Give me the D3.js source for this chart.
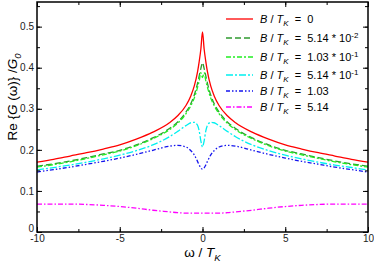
<!DOCTYPE html>
<html>
<head>
<meta charset="utf-8">
<script src="https://cdn.jsdelivr.net/npm/d3@7"></script>
<style>
  body { margin: 0; background: #fff; }
  text { font-family: "Liberation Sans", Arial, sans-serif; }
</style>
</head>
<body>
<div id="chart"></div>
<script>
var omega = [-10, -9, -8, -7, -6, -5, -4, -3, -2, -1.5, -1, -0.7, -0.5, -0.3, -0.2, -0.1, 0,
             0.1, 0.2, 0.3, 0.5, 0.7, 1, 1.5, 2, 3, 4, 5, 6, 7, 8, 9, 10];

var gB0 = [0.170, 0.177, 0.185, 0.193, 0.202, 0.212, 0.226, 0.243, 0.266, 0.283, 0.308, 0.332, 0.355, 0.390, 0.415, 0.445, 0.487,
           0.445, 0.415, 0.390, 0.355, 0.332, 0.308, 0.283, 0.266, 0.243, 0.226, 0.212, 0.202, 0.193, 0.185, 0.177, 0.170];
var gB1 = [0.160, 0.166, 0.173, 0.181, 0.190, 0.199, 0.212, 0.229, 0.252, 0.268, 0.292, 0.313, 0.333, 0.362, 0.380, 0.398, 0.412,
           0.398, 0.380, 0.362, 0.333, 0.313, 0.292, 0.268, 0.252, 0.229, 0.212, 0.199, 0.190, 0.181, 0.173, 0.166, 0.160];
var gB2 = [0.158, 0.164, 0.171, 0.179, 0.188, 0.197, 0.210, 0.227, 0.249, 0.265, 0.288, 0.308, 0.326, 0.352, 0.368, 0.388, 0.376,
           0.388, 0.368, 0.352, 0.326, 0.308, 0.288, 0.265, 0.249, 0.227, 0.210, 0.197, 0.188, 0.179, 0.171, 0.164, 0.158];
var gB3 = [0.151, 0.157, 0.163, 0.170, 0.178, 0.187, 0.198, 0.212, 0.232, 0.245, 0.259, 0.266, 0.267, 0.260, 0.246, 0.222, 0.207,
           0.222, 0.246, 0.260, 0.267, 0.266, 0.259, 0.245, 0.232, 0.212, 0.198, 0.187, 0.178, 0.170, 0.163, 0.157, 0.151];
var gB4 = [0.146, 0.152, 0.158, 0.165, 0.172, 0.180, 0.189, 0.199, 0.209, 0.211, 0.207, 0.198, 0.188, 0.172, 0.163, 0.156, 0.153,
           0.156, 0.163, 0.172, 0.188, 0.198, 0.207, 0.211, 0.209, 0.199, 0.189, 0.180, 0.172, 0.165, 0.158, 0.152, 0.146];
var gB5 = [0.068, 0.068, 0.068, 0.067, 0.065, 0.062, 0.058, 0.053, 0.049, 0.047, 0.046, 0.046, 0.046, 0.046, 0.046, 0.046, 0.046,
           0.046, 0.046, 0.046, 0.046, 0.046, 0.046, 0.047, 0.049, 0.053, 0.058, 0.062, 0.065, 0.067, 0.068, 0.068, 0.068];

var legendValues = ["0", "5.14 * 10", "1.03 * 10", "5.14 * 10", "1.03", "5.14"];
var legendExps = ["", "-2", "-1", "-1", "", ""];
var xTicks = [-10, -5, 0, 5, 10];
var yTicks = [0, 0.1, 0.2, 0.3, 0.4, 0.5];

var series = [
    { values: gB0, color: "#ff0000", dash: null },
    { values: gB1, color: "#2f9a2f", dash: "6,3" },
    { values: gB2, color: "#22ee22", dash: "5,2,2,2" },
    { values: gB3, color: "#00f0f0", dash: "7,2,2,2" },
    { values: gB4, color: "#1515ee", dash: "4,2,1.5,2,1.5,2" },
    { values: gB5, color: "#ff00ff", dash: "5,2,1.5,2" }
];

var margin = { top: 2, right: 6, bottom: 32, left: 37 },
    width = 374 - margin.left - margin.right,
    height = 264 - margin.top - margin.bottom;

var svg = d3.select("#chart").append("svg")
    .attr("width", 374)
    .attr("height", 264)
    .append("g")
    .attr("transform", "translate(" + margin.left + "," + margin.top + ")");

var x = d3.scaleLinear().domain([-10, 10]).range([0, width]);
var y = d3.scaleLinear().domain([0, 0.56]).range([height, 0]);

// curves
var line = d3.line()
    .x(function (d, i) { return x(omega[i]); })
    .y(function (d) { return y(d); })
    .curve(d3.curveMonotoneX);

svg.append("defs").append("clipPath").attr("id", "clip")
    .append("rect").attr("width", width).attr("height", height);

svg.selectAll("path.curve")
    .data(series)
    .enter().append("path")
    .attr("class", "curve")
    .attr("clip-path", "url(#clip)")
    .attr("d", function (d) { return line(d.values); })
    .attr("fill", "none")
    .attr("stroke", function (d) { return d.color; })
    .attr("stroke-width", 1.3)
    .attr("stroke-dasharray", function (d) { return d.dash; });

// ticks on all four sides, pointing inwards
var xMinor = d3.range(-10, 10.01, 2.5);
var yMinor = d3.range(0, 0.56, 0.05);

function tickAxis(axis, scale, vals, len) {
    return axis(scale).tickValues(vals).tickSizeInner(-len).tickSizeOuter(0).tickFormat("");
}

svg.append("g").attr("transform", "translate(0," + height + ")")
    .call(tickAxis(d3.axisBottom, x, xMinor, 3));
svg.append("g").attr("transform", "translate(0," + height + ")")
    .call(d3.axisBottom(x).tickValues(xTicks).tickSizeInner(-5).tickSizeOuter(0)
        .tickPadding(3).tickFormat(function (d) { return String(d); }));
svg.append("g").call(tickAxis(d3.axisTop, x, xMinor, 3));
svg.append("g").call(tickAxis(d3.axisTop, x, xTicks, 5));

svg.append("g").call(tickAxis(d3.axisLeft, y, yMinor, 3));
var yAx = svg.append("g")
    .call(d3.axisLeft(y).tickValues(yTicks).tickSizeInner(-5).tickSizeOuter(0)
        .tickPadding(3).tickFormat(function (d) { return d === 0 ? "0" : d.toFixed(1); }));
svg.append("g").attr("transform", "translate(" + width + ",0)")
    .call(tickAxis(d3.axisRight, y, yMinor, 3));
svg.append("g").attr("transform", "translate(" + width + ",0)")
    .call(tickAxis(d3.axisRight, y, yTicks, 5));

svg.selectAll(".domain").remove();
svg.selectAll(".tick line").attr("stroke", "#000").attr("stroke-width", 1);
svg.selectAll(".tick text").attr("font-size", "10px").attr("fill", "#222");
// the "0" of the value axis sits a little above the corner
yAx.selectAll(".tick text").filter(function (d) { return d === 0; }).attr("dy", "-0.05em");

svg.append("rect")
    .attr("width", width).attr("height", height)
    .attr("fill", "none").attr("stroke", "#000").attr("stroke-width", 1.5);

// axis titles
var xl = svg.append("text")
    .attr("x", width / 2).attr("y", 255)
    .attr("text-anchor", "middle").attr("font-size", "13.5px");
xl.append("tspan").text("\u03c9 / ");
xl.append("tspan").attr("font-style", "italic").text("T");
xl.append("tspan").attr("font-style", "italic").attr("font-size", "9.5px").attr("dy", 3.5).text("K");

var yl = svg.append("text")
    .attr("transform", "translate(-20,95) rotate(-90)")
    .attr("text-anchor", "middle").attr("font-size", "13.5px");
yl.append("tspan").text("Re {");
yl.append("tspan").attr("font-style", "italic").text("G");
yl.append("tspan").text(" (\u03c9)} /");
yl.append("tspan").attr("font-style", "italic").text("G");
yl.append("tspan").attr("font-style", "italic").attr("font-size", "9.5px").attr("dy", 4).text("0");

// legend
var legendY = [19, 38, 57, 75, 91, 107];
var leg = svg.selectAll("g.leg")
    .data(series)
    .enter().append("g")
    .attr("class", "leg")
    .attr("transform", function (d, i) { return "translate(0," + (legendY[i] - margin.top) + ")"; });

leg.append("line")
    .attr("x1", 226 - margin.left).attr("x2", 253 - margin.left)
    .attr("stroke", function (d) { return d.color; })
    .attr("stroke-width", 1.3)
    .attr("stroke-dasharray", function (d) { return d.dash; });

var lt = leg.append("text")
    .attr("x", 260 - margin.left).attr("y", 4)
    .attr("font-size", "11px");
lt.append("tspan").attr("font-style", "italic").text("B");
lt.append("tspan").text(" / ");
lt.append("tspan").attr("font-style", "italic").text("T");
lt.append("tspan").attr("font-style", "italic").attr("font-size", "8px").attr("dy", 3).text("K");
lt.append("tspan").attr("dy", -3).text("\u00a0 = \u00a0")
    .append("tspan").text(function (d, i) { return legendValues[i]; });
lt.append("tspan").attr("font-size", "8px").attr("dy", -4)
    .text(function (d, i) { return legendExps[i]; });
</script>
</body>
</html>
